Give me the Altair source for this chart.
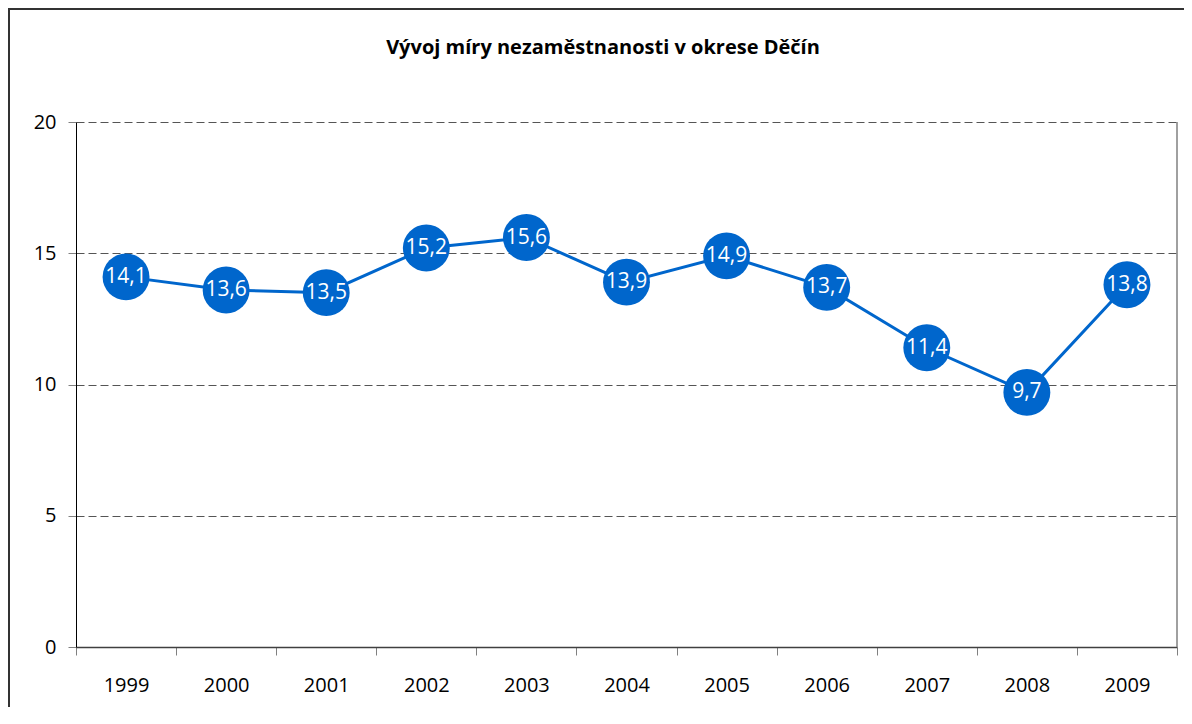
import altair as alt
import pandas as pd

# ---- data ----
years = [str(y) for y in range(1999, 2010)]
rates = [14.1, 13.6, 13.5, 15.2, 15.6, 13.9, 14.9, 13.7, 11.4, 9.7, 13.8]
labels = ["14,1", "13,6", "13,5", "15,2", "15,6", "13,9", "14,9", "13,7", "11,4", "9,7", "13,8"]
y_ticks = [0, 5, 10, 15, 20]
title_text = "Vývoj míry nezaměstnanosti v okrese Děčín"

df = pd.DataFrame({"year": years, "rate": rates, "label": labels})

W, H = 1101, 525
BLUE = "#0066CC"
FONT = "Open Sans"

x = alt.X(
    "year:O", title=None, bandPosition=0.5,
    scale=alt.Scale(type="band", paddingInner=0, paddingOuter=0),
    axis=alt.Axis(tickBand="extent", labelAngle=0, labelFontSize=20, labelFont=FONT,
                  labelColor="black", labelPadding=20, tickSize=8, tickColor="#808080",
                  domainColor="#404040", domainWidth=1.5, grid=False),
)
y = alt.Y(
    "rate:Q", title=None,
    scale=alt.Scale(domain=[0, 20]),
    axis=alt.Axis(values=y_ticks, grid=True, gridDash=[8, 4], gridColor="#555555",
                  gridWidth=1, tickSize=8, tickColor="#808080", domainColor="black",
                  labelPadding=12, labelFontSize=20, labelFont=FONT, labelColor="black"),
)

base = alt.Chart(df)
one = alt.Data(values=[{"k": 1}])

frame_left = alt.Chart(one).mark_rule(color="#333333", strokeWidth=2).encode(
    x=alt.value(-67), y=alt.value(-113), y2=alt.value(H + 300))
frame_top = alt.Chart(one).mark_rule(color="#333333", strokeWidth=2).encode(
    x=alt.value(-68), x2=alt.value(W + 300), y=alt.value(-113))

title = alt.Chart(one).mark_text(
    fontSize=20, font=FONT, fontWeight="bold", color="black", align="center", baseline="alphabetic"
).encode(x=alt.value(527), y=alt.value(-68), text=alt.value(title_text))

right_border = alt.Chart(one).mark_rule(
    color="#808080", strokeWidth=1.5
).encode(x=alt.value(W), y=alt.value(0), y2=alt.value(H))

line = base.mark_line(color=BLUE, strokeWidth=3).encode(x=x, y=y)
points = base.mark_circle(size=2200, color=BLUE, opacity=1).encode(x=x, y=y)
text = base.mark_text(color="white", fontSize=21, font=FONT).encode(x=x, y=y, text="label:N")

chart = alt.layer(frame_left, frame_top, title, line, right_border, points, text).properties(
    width=W, height=H,
    autosize=alt.AutoSizeParams(type="none"),
    padding={"left": 68, "top": 114, "right": 7, "bottom": 60},
).configure_view(stroke=None)

chart.save("out.html", embed_options={"renderer": "svg", "actions": False})
